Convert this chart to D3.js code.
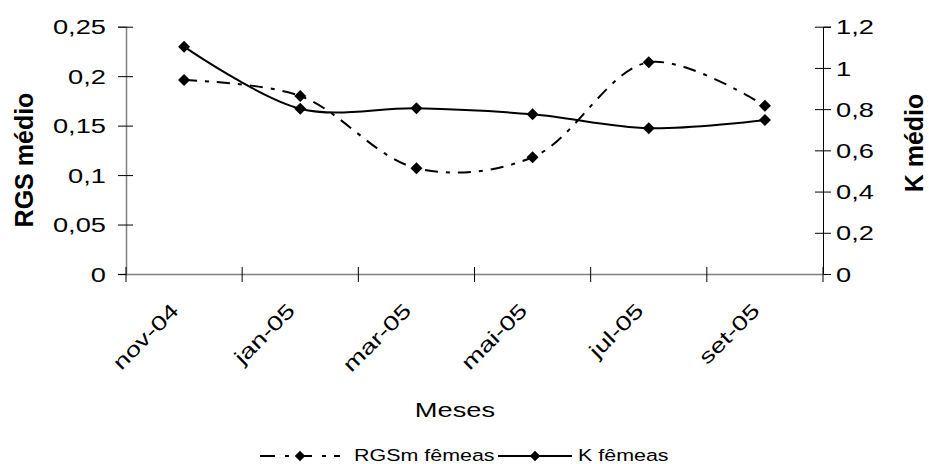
<!DOCTYPE html>
<html>
<head>
<meta charset="utf-8">
<script src="https://cdn.jsdelivr.net/npm/d3@7"></script>
<style>
  body { margin: 0; background: #fff; }
  svg { display: block; }
  text { font-family: "Liberation Sans", Arial, sans-serif; fill: #000; }
</style>
</head>
<body>
<svg id="chart" width="929" height="464"></svg>
<script>
const categories = ["nov-04", "jan-05", "mar-05", "mai-05", "jul-05", "set-05"];
const rgsValues = [0.196, 0.180, 0.107, 0.118, 0.214, 0.170];
const kValues = [1.103, 0.802, 0.804, 0.775, 0.707, 0.747];
const leftTicks = [0, 0.05, 0.1, 0.15, 0.2, 0.25];
const rightTicks = [0, 0.2, 0.4, 0.6, 0.8, 1, 1.2];
const seriesNames = ["RGSm fêmeas", "K fêmeas"];
const leftTitle = "RGS médio";
const rightTitle = "K médio";
const xTitle = "Meses";

const svg = d3.select("#chart");
const plot = { left: 126, right: 823, top: 26.7, bottom: 274 };
const SX = 1.33; // horizontal glyph stretch of the reference text
const fmt = v => String(v).replace(".", ",");

const x = d3.scaleBand().domain(categories).range([plot.left, plot.right]).padding(0);
const yL = d3.scaleLinear().domain([0, 0.25]).range([plot.bottom, plot.top]);
const yR = d3.scaleLinear().domain([0, 1.2]).range([plot.bottom, plot.top]);
const cx = c => x(c) + x.bandwidth() / 2;

// Left axis
const gL = svg.append("g").attr("transform", `translate(${plot.left},0)`)
  .call(d3.axisLeft(yL).tickValues(leftTicks).tickFormat(fmt).tickSize(8));
gL.select(".domain").attr("stroke", "#808080").attr("stroke-width", 1.5);
gL.selectAll(".tick line").attr("x1", -8).attr("x2", 7).attr("stroke", "#000");
gL.selectAll(".tick text").attr("x", 0).attr("dy", "0.35em")
  .attr("transform", `translate(-20,0) scale(${SX},1)`)
  .style("font-size", "20.5px").attr("text-anchor", "end");

// Right axis
const gR = svg.append("g").attr("transform", `translate(${plot.right},0)`)
  .call(d3.axisRight(yR).tickValues(rightTicks).tickFormat(fmt).tickSize(8));
gR.select(".domain").attr("stroke", "#000").attr("stroke-width", 1);
gR.selectAll(".tick line").attr("x1", -8).attr("x2", 8).attr("stroke", "#000");
gR.selectAll(".tick text").attr("x", 0).attr("dy", "0.35em")
  .attr("transform", `translate(13,0) scale(${SX},1)`)
  .style("font-size", "20.5px").attr("text-anchor", "start");

// Bottom axis (labels at category centres)
const gX = svg.append("g").attr("transform", `translate(0,${plot.bottom})`)
  .call(d3.axisBottom(x).tickSize(0));
gX.select(".domain").attr("stroke", "#808080").attr("stroke-width", 1.5);
gX.selectAll(".tick text").attr("x", 0).attr("y", 0).attr("dy", 0)
  .attr("text-anchor", "end")
  .attr("transform", `translate(-4,38) rotate(-45) scale(${SX},1)`)
  .style("font-size", "20.5px");
// category boundary tick marks
const bounds = categories.map(c => x(c)).concat([x.range()[1]]);
gX.selectAll(".btick").data(bounds).enter().append("line")
  .attr("class", "btick")
  .attr("x1", d => d).attr("x2", d => d)
  .attr("y1", -7).attr("y2", 8).attr("stroke", "#000");

// Axis titles
svg.append("text").text(leftTitle)
  .attr("transform", "translate(33,160) rotate(-90)")
  .attr("text-anchor", "middle").style("font-size", "25px").style("font-weight", "bold");
svg.append("text").text(rightTitle)
  .attr("transform", "translate(923,143) rotate(-90)")
  .attr("text-anchor", "middle").style("font-size", "25px").style("font-weight", "bold");
svg.append("text").text(xTitle)
  .attr("transform", `translate(455,417) scale(${SX},1)`)
  .attr("text-anchor", "middle").style("font-size", "20.5px");

// Lines
const dash = "13,8,4,8";
const lineL = d3.line().x((d, i) => cx(categories[i])).y(d => yL(d)).curve(d3.curveCatmullRom.alpha(0.5));
const lineR = d3.line().x((d, i) => cx(categories[i])).y(d => yR(d)).curve(d3.curveCatmullRom.alpha(0.5));
svg.append("path").datum(rgsValues).attr("d", lineL)
  .attr("fill", "none").attr("stroke", "#000").attr("stroke-width", 2).attr("stroke-dasharray", dash);
svg.append("path").datum(kValues).attr("d", lineR)
  .attr("fill", "none").attr("stroke", "#000").attr("stroke-width", 2);

const diamond = d3.symbol(d3.symbolSquare, 72);
svg.selectAll(".mL").data(rgsValues).enter().append("path")
  .attr("d", diamond)
  .attr("transform", (d, i) => `translate(${cx(categories[i])},${yL(d)}) rotate(45)`)
  .attr("fill", "#000");
svg.selectAll(".mR").data(kValues).enter().append("path")
  .attr("d", diamond)
  .attr("transform", (d, i) => `translate(${cx(categories[i])},${yR(d)}) rotate(45)`)
  .attr("fill", "#000");

// Legend
const legY = 456;
const legendItems = [
  { name: seriesNames[0], x0: 260, x1: 340, dash: "15,10,4,8" , tx: 354 },
  { name: seriesNames[1], x0: 498, x1: 572, dash: null, tx: 578 }
];
const smallDiamond = d3.symbol(d3.symbolSquare, 55);
legendItems.forEach(it => {
  svg.append("line").attr("x1", it.x0).attr("x2", it.x1).attr("y1", legY).attr("y2", legY)
    .attr("stroke", "#000").attr("stroke-width", 2)
    .attr("stroke-dasharray", it.dash);
  svg.append("path").attr("d", smallDiamond)
    .attr("transform", `translate(${(it.x0 + it.x1) / 2},${legY}) rotate(45)`).attr("fill", "#000");
  svg.append("text").text(it.name)
    .attr("transform", `translate(${it.tx},461) scale(1.3,1)`)
    .style("font-size", "16.5px");
});
</script>
</body>
</html>
